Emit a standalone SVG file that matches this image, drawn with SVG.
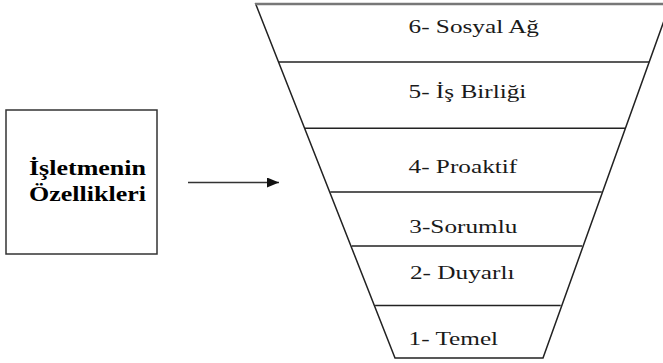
<svg xmlns="http://www.w3.org/2000/svg" width="663" height="363" viewBox="0 0 663 363">
<defs>
<style>
.ln{stroke:#222;stroke-width:1.5;fill:none}
.lbl{font-family:"Liberation Serif",serif;font-size:19px;fill:#1a1a1a}
.bold{font-family:"Liberation Serif",serif;font-size:20px;font-weight:bold;fill:#000}
</style>
<marker id="ah" markerWidth="12" markerHeight="10" refX="12" refY="5" orient="auto" markerUnits="userSpaceOnUse">
<path d="M0,0 L12,5 L0,10 Z" fill="#111"/>
</marker>
</defs>
<rect width="663" height="363" fill="#fff"/>
<g id="box">
<rect x="6" y="110" width="151" height="144" fill="#fff" stroke="#333" stroke-width="1.5"/>
<g transform="translate(29,0) scale(1.3,1)">
<text class="bold" x="0" y="175.5">İşletmenin</text>
<text class="bold" x="0" y="201">Özellikleri</text>
</g>
</g>
<g id="connectors">
<line x1="188" y1="182.5" x2="279" y2="182.5" stroke="#333" stroke-width="1.5" marker-end="url(#ah)"/>
</g>
<g id="funnel">
<polygon class="ln" points="255.7,4 670,4 543,358 395,358"/>
<line x1="255" y1="4" x2="663" y2="4" stroke="#777" stroke-width="2.5"/>
<line class="ln" x1="278.7" y1="62" x2="649.1" y2="62"/>
<line class="ln" x1="305" y1="128.3" x2="625" y2="128.3"/>
<line class="ln" x1="330.3" y1="192" x2="601.8" y2="192"/>
<line class="ln" x1="351.7" y1="246" x2="582.2" y2="246"/>
<line class="ln" x1="375.1" y1="305.5" x2="560.7" y2="305.5"/>
</g>
<g transform="translate(408.5,0) scale(1.33,1)">
<g id="level6"><text class="lbl" x="0" y="32.7">6- Sosyal Ağ</text></g>
<g id="level5"><text class="lbl" x="0" y="97.7">5- İş Birliği</text></g>
<g id="level4"><text class="lbl" x="0" y="173.3">4- Proaktif</text></g>
<g id="level3"><text class="lbl" x="0.6" y="233.3">3-Sorumlu</text></g>
<g id="level2"><text class="lbl" x="1.1" y="279">2- Duyarlı</text></g>
<g id="level1"><text class="lbl" x="0" y="345">1- Temel</text></g>
</g>
</svg>
